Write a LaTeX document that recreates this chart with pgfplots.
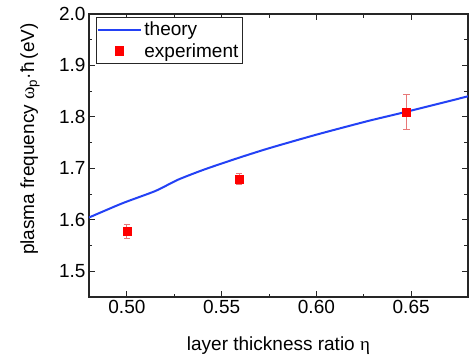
\documentclass[border=0pt]{standalone}
\usepackage{fontspec}
\setmainfont{Liberation Sans}
\newfontfamily\grk{Liberation Serif}
\usepackage{pgfplots}
\pgfplotsset{compat=1.18}
\definecolor{theoryblue}{RGB}{35,65,245}
\definecolor{exred}{RGB}{255,0,0}
\definecolor{errred}{RGB}{232,120,120}
\newcommand{\fs}{\fontsize{19}{22}\selectfont}
\begin{document}
\begin{tikzpicture}
\path[use as bounding box] (-89pt,-63pt) rectangle (380pt,297pt);
\begin{axis}[
  at={(0pt,0pt)}, anchor=south west,
  scale only axis, width=379pt, height=283pt,
  xmin=0.48, xmax=0.68, ymin=1.45, ymax=2.0,
  xtick={0.50,0.55,0.60,0.65},
  ytick={1.5,1.6,1.7,1.8,1.9,2.0},
  minor x tick num=1, minor y tick num=1,
  tick align=inside,
  major tick length=6pt, minor tick length=3.5pt,
  tick style={line width=0.9pt, color=black!85},
  axis line style={line width=1.1pt, color=black!85},
  /pgf/number format/assume math mode=true,
  xticklabel style={/pgf/number format/.cd, fixed, fixed zerofill, precision=2},
  yticklabel style={/pgf/number format/.cd, fixed, fixed zerofill, precision=1},
  tick label style={font=\fs},
  label style={font=\fs},
  xlabel={layer thickness ratio {\grk η}},
  ylabel={plasma frequency {\grk ω}\textsubscript{p}·ħ\,(eV)},
  xlabel style={at={(axis description cs:0.5,-0.172)}, anchor=center},
  ylabel style={at={(axis description cs:-0.1557,0.558)}, anchor=center},
  legend style={font=\fs, at={(0.0185,0.989)}, anchor=north west,
    draw=black!85, line width=0.8pt, inner xsep=1pt, inner ysep=2pt,
    row sep=1pt, nodes={inner xsep=3pt, inner ysep=2.5pt}, cells={anchor=west}},
  legend image code/.code={\draw[mark repeat=2,mark phase=2,#1] plot coordinates {(0pt,0pt) (21pt,0pt) (42pt,0pt)};},
]
\addplot[theoryblue, line width=2pt, mark=none, smooth, tension=0.4] coordinates {
(0.48,1.6045) (0.4975,1.632) (0.515,1.656) (0.527,1.678) (0.541,1.698)
(0.5586,1.720) (0.5749,1.739) (0.600,1.7655) (0.6272,1.792)
(0.6475,1.810) (0.68,1.840)
};
\addlegendentry{theory}
\addplot[only marks, mark=square*, mark size=4.1pt, color=exred,
  mark options={draw=exred, fill=exred},
  error bars/.cd, y dir=both, y explicit,
  error bar style={color=errred, line width=0.8pt},
  error mark options={rotate=90, mark size=3.3pt, color=errred, line width=0.8pt}]
coordinates {
(0.500,1.578) +- (0,0.014)
(0.5592,1.679) +- (0,0.011)
(0.6475,1.809) +- (0,0.034)
};
\addlegendentry{experiment}
\end{axis}
\end{tikzpicture}
\end{document}
